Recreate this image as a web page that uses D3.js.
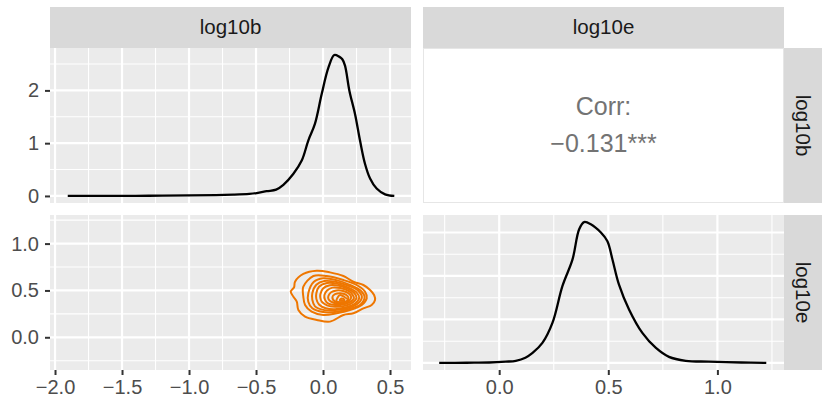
<!DOCTYPE html>
<html>
<head>
<meta charset="utf-8">
<script src="https://cdn.jsdelivr.net/npm/d3@7"></script>
<style>
  html, body { margin: 0; padding: 0; background: #fff; }
  svg { display: block; font-family: "Liberation Sans", Arial, sans-serif; }
</style>
</head>
<body>
<svg id="chart" width="822" height="400"></svg>
<script>
// Variables of the pair matrix
const variables = ["log10b", "log10e"];

// Kernel density of log10b (diagonal, top-left)
const bDensX = [-1.905, -1.6, -1.3, -1.0, -0.8, -0.67, -0.55, -0.495, -0.42, -0.35, -0.296, -0.221, -0.159, -0.11, -0.06, -0.01, 0.04, 0.084, 0.12, 0.144, 0.164, 0.197, 0.239, 0.276, 0.313, 0.351, 0.40, 0.463, 0.532];
const bDensY = [0, 0.002, 0.004, 0.01, 0.015, 0.025, 0.04, 0.055, 0.09, 0.12, 0.21, 0.42, 0.67, 1.05, 1.37, 1.93, 2.43, 2.67, 2.64, 2.59, 2.47, 1.99, 1.55, 1.05, 0.61, 0.33, 0.14, 0.03, 0.0];

// Kernel density of log10e (diagonal, bottom-right)
const eDensX = [-0.275, -0.15, -0.046, 0.03, 0.076, 0.12, 0.153, 0.198, 0.244, 0.29, 0.336, 0.366, 0.389, 0.42, 0.466, 0.496, 0.519, 0.549, 0.595, 0.656, 0.717, 0.778, 0.855, 0.96, 1.11, 1.224];
const eDensY = [0, 0.005, 0.01, 0.03, 0.05, 0.12, 0.23, 0.46, 0.92, 1.77, 2.38, 3.07, 3.24, 3.19, 3.0, 2.8, 2.38, 1.8, 1.23, 0.69, 0.35, 0.14, 0.05, 0.03, 0.01, 0];

// Observed ranges of the two variables
const bRange = [-1.915, 0.534];
const eRange = [-0.274, 1.23];

// 2-D density contour rings of (log10b, log10e), outermost first
const contours = [
  [[-0.209,0.593],[-0.147,0.676],[-0.047,0.711],[0.052,0.693],[0.152,0.654],[0.226,0.593],[0.301,0.558],[0.351,0.505],[0.381,0.451],[0.388,0.398],[0.363,0.345],[0.301,0.309],[0.226,0.256],[0.152,0.238],[0.052,0.167],[-0.047,0.185],[-0.134,0.22],[-0.184,0.291],[-0.196,0.38],[-0.221,0.433],[-0.241,0.487],[-0.216,0.534]],
  [[-0.147,0.54],[-0.072,0.654],[0.027,0.654],[0.152,0.611],[0.251,0.558],[0.313,0.487],[0.326,0.416],[0.289,0.345],[0.201,0.291],[0.102,0.256],[0.002,0.238],[-0.085,0.273],[-0.134,0.345],[-0.147,0.433]],
  [[-0.11,0.47],[-0.07,0.59],[0.0,0.63],[0.10,0.61],[0.20,0.56],[0.28,0.50],[0.31,0.43],[0.28,0.35],[0.19,0.30],[0.09,0.27],[0.0,0.27],[-0.08,0.31],[-0.11,0.38]],
  [[-0.08,0.47],[-0.05,0.56],[0.01,0.60],[0.10,0.59],[0.19,0.55],[0.26,0.50],[0.29,0.43],[0.26,0.36],[0.18,0.31],[0.09,0.29],[0.01,0.29],[-0.06,0.33],[-0.08,0.40]],
  [[-0.05,0.47],[-0.03,0.54],[0.03,0.58],[0.11,0.57],[0.19,0.53],[0.25,0.48],[0.27,0.42],[0.24,0.36],[0.17,0.32],[0.09,0.30],[0.02,0.31],[-0.03,0.35],[-0.05,0.41]],
  [[-0.02,0.46],[0.0,0.52],[0.05,0.555],[0.12,0.55],[0.19,0.515],[0.235,0.47],[0.25,0.42],[0.22,0.37],[0.16,0.335],[0.09,0.325],[0.03,0.34],[-0.01,0.38],[-0.02,0.42]],
  [[0.01,0.45],[0.03,0.50],[0.07,0.53],[0.13,0.525],[0.19,0.495],[0.22,0.455],[0.23,0.415],[0.20,0.375],[0.15,0.35],[0.09,0.345],[0.04,0.36],[0.015,0.40]],
  [[0.04,0.44],[0.06,0.48],[0.10,0.50],[0.15,0.495],[0.19,0.47],[0.21,0.43],[0.195,0.39],[0.155,0.365],[0.10,0.36],[0.06,0.38],[0.04,0.41]],
  [[0.07,0.43],[0.09,0.46],[0.13,0.47],[0.17,0.455],[0.19,0.42],[0.175,0.385],[0.13,0.37],[0.09,0.38]],
  [[0.10,0.385],[0.125,0.45],[0.16,0.43],[0.19,0.39],[0.15,0.375]],
  [[0.125,0.395],[0.14,0.415],[0.16,0.40],[0.14,0.39]]
];

// Correlation summary
const corrLabel = "Corr:";
const corrValue = "\u22120.131***";

// Tick breaks
const bTicks = [-2.0, -1.5, -1.0, -0.5, 0.0, 0.5];
const eTicks = [0.0, 0.5, 1.0];
const bDensTicks = [0, 1, 2];
const eDensTicks = [0, 1, 2, 3];

// ---------- layout ----------
const colX = [[50, 411], [423, 784]];
const rowY = [[48, 203], [215, 370]];
const stripTop = [7, 48];
const stripRight = [784, 822];

const PANEL_BG = "#EBEBEB";
const STRIP_BG = "#D9D9D9";
const STRIP_TXT = "#1A1A1A";
const AXIS_TXT = "#4D4D4D";
const TICK_COL = "#333333";
const FS = 20;

const svg = d3.select("#chart");

function expand(r, lo0) {
  const lo = lo0 !== undefined ? lo0 : r[0];
  const span = r[1] - lo;
  return [lo - 0.05 * span, r[1] + 0.05 * span];
}
function minorOf(ticks, dom) {
  const step = ticks[1] - ticks[0];
  const out = [];
  for (let i = -1; i < ticks.length; i++) {
    const v = (i < 0 ? ticks[0] - step : ticks[i]) + step / 2;
    if (v > dom[0] && v < dom[1]) out.push(v);
  }
  return out;
}

const xB = d3.scaleLinear().domain(expand(bRange)).range(colX[0]);
const xE = d3.scaleLinear().domain(expand(eRange)).range(colX[1]);
const yBDens = d3.scaleLinear().domain(expand([0, d3.max(bDensY)])).range([rowY[0][1], rowY[0][0]]);
const yEDens = d3.scaleLinear().domain(expand([0, d3.max(eDensY)])).range([rowY[1][1], rowY[1][0]]);
const yE = d3.scaleLinear().domain(expand(eRange)).range([rowY[1][1], rowY[1][0]]);

function gridPanel(xs, xt, ys, yt, cx, ry) {
  const g = svg.append("g");
  g.append("rect").attr("x", cx[0]).attr("y", ry[0])
    .attr("width", cx[1] - cx[0]).attr("height", ry[1] - ry[0]).attr("fill", PANEL_BG);
  const xdom = xs.domain(), ydom = ys.domain();
  const xmin = minorOf(xt, xdom), ymin = minorOf(yt, ydom);
  g.selectAll(null).data(xmin).enter().append("line")
    .attr("x1", d => xs(d)).attr("x2", d => xs(d)).attr("y1", ry[0]).attr("y2", ry[1])
    .attr("stroke", "#fff").attr("stroke-width", 1.1);
  g.selectAll(null).data(ymin).enter().append("line")
    .attr("y1", d => ys(d)).attr("y2", d => ys(d)).attr("x1", cx[0]).attr("x2", cx[1])
    .attr("stroke", "#fff").attr("stroke-width", 1.1);
  g.selectAll(null).data(xt).enter().append("line")
    .attr("x1", d => xs(d)).attr("x2", d => xs(d)).attr("y1", ry[0]).attr("y2", ry[1])
    .attr("stroke", "#fff").attr("stroke-width", 2.2);
  g.selectAll(null).data(yt).enter().append("line")
    .attr("y1", d => ys(d)).attr("y2", d => ys(d)).attr("x1", cx[0]).attr("x2", cx[1])
    .attr("stroke", "#fff").attr("stroke-width", 2.2);
  return g;
}

// Panels
gridPanel(xB, bTicks, yBDens, [0, 1, 2], colX[0], rowY[0]);
gridPanel(xB, bTicks, yE, eTicks, colX[0], rowY[1]);
gridPanel(xE, eTicks, yEDens, eDensTicks, colX[1], rowY[1]);

// Correlation panel
svg.append("rect").attr("x", colX[1][0] + 0.5).attr("y", rowY[0][0] + 0.5)
  .attr("width", colX[1][1] - colX[1][0] - 1).attr("height", rowY[0][1] - rowY[0][0] - 1)
  .attr("fill", "#fff").attr("stroke", "#E6E6E6").attr("stroke-width", 1);
const cxm = (colX[1][0] + colX[1][1]) / 2;
svg.append("text").attr("x", cxm).attr("y", 115).attr("text-anchor", "middle")
  .attr("font-size", 25).attr("fill", "#737373").text(corrLabel);
svg.append("text").attr("x", cxm).attr("y", 152).attr("text-anchor", "middle")
  .attr("font-size", 25).attr("fill", "#737373").text(corrValue);

// Density curves
const dLineB = d3.line().x(d => xB(d[0])).y(d => yBDens(d[1])).curve(d3.curveCatmullRom.alpha(0.5));
const dLineE = d3.line().x(d => xE(d[0])).y(d => yEDens(d[1])).curve(d3.curveCatmullRom.alpha(0.5));
svg.append("path").datum(d3.zip(bDensX, bDensY)).attr("d", dLineB)
  .attr("fill", "none").attr("stroke", "#000").attr("stroke-width", 2.3).attr("stroke-linejoin", "round");
svg.append("path").datum(d3.zip(eDensX, eDensY)).attr("d", dLineE)
  .attr("fill", "none").attr("stroke", "#000").attr("stroke-width", 2.3).attr("stroke-linejoin", "round");

// Contours
const cLine = d3.line().x(d => xB(d[0])).y(d => yE(d[1])).curve(d3.curveCatmullRomClosed.alpha(0.5));
svg.append("g").selectAll("path").data(contours).enter().append("path")
  .attr("d", cLine).attr("fill", "none").attr("stroke", "#EE7600").attr("stroke-width", 2)
  .attr("stroke-linejoin", "round");

// Strips
variables.forEach((v, i) => {
  svg.append("rect").attr("x", colX[i][0]).attr("y", stripTop[0])
    .attr("width", colX[i][1] - colX[i][0]).attr("height", stripTop[1] - stripTop[0]).attr("fill", STRIP_BG);
  svg.append("text").attr("x", (colX[i][0] + colX[i][1]) / 2).attr("y", 34)
    .attr("text-anchor", "middle").attr("font-size", 20.5).attr("fill", STRIP_TXT).text(v);
  svg.append("rect").attr("x", stripRight[0]).attr("y", rowY[i][0])
    .attr("width", stripRight[1] - stripRight[0]).attr("height", rowY[i][1] - rowY[i][0]).attr("fill", STRIP_BG);
  svg.append("text").attr("transform", `translate(803,${(rowY[i][0] + rowY[i][1]) / 2}) rotate(90)`)
    .attr("dy", "0.35em").attr("text-anchor", "middle").attr("font-size", 20.5).attr("fill", STRIP_TXT).text(v);
});

// Axes
function styleAxis(g) {
  g.select(".domain").remove();
  g.selectAll(".tick line").attr("stroke", TICK_COL).attr("stroke-width", 2);
  g.selectAll(".tick text").attr("fill", AXIS_TXT).attr("font-size", FS).attr("font-family", "Liberation Sans, Arial, sans-serif");
}
const fmt1 = d3.format(".1f");
svg.append("g").attr("transform", `translate(${colX[0][0]},0)`)
  .call(d3.axisLeft(yBDens).tickValues(bDensTicks).tickFormat(d3.format("d")).tickSize(5).tickPadding(6))
  .call(styleAxis);
svg.append("g").attr("transform", `translate(${colX[0][0]},0)`)
  .call(d3.axisLeft(yE).tickValues(eTicks).tickFormat(fmt1).tickSize(5).tickPadding(6))
  .call(styleAxis);
svg.append("g").attr("transform", `translate(0,${rowY[1][1]})`)
  .call(d3.axisBottom(xB).tickValues(bTicks).tickFormat(fmt1).tickSize(5).tickPadding(5))
  .call(styleAxis);
svg.append("g").attr("transform", `translate(0,${rowY[1][1]})`)
  .call(d3.axisBottom(xE).tickValues(eTicks).tickFormat(fmt1).tickSize(5).tickPadding(5))
  .call(styleAxis);
</script>
</body>
</html>
